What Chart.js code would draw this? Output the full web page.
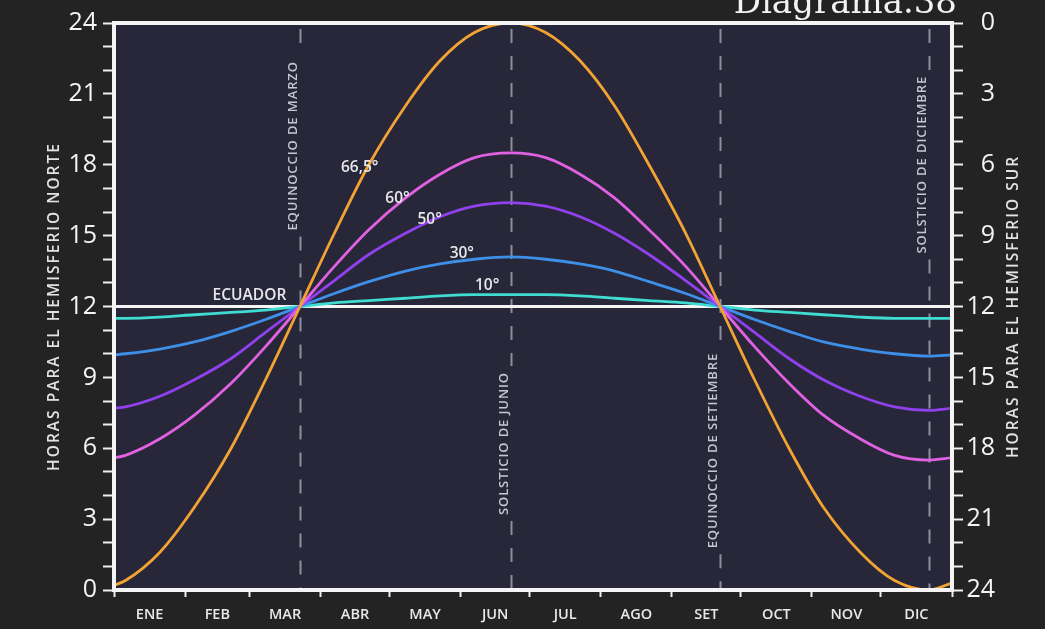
<!DOCTYPE html>
<html>
<head>
<meta charset="utf-8">
<script src="https://cdn.jsdelivr.net/npm/chart.js@4.4.1/dist/chart.umd.min.js"></script>
<style>
  html, body { margin: 0; padding: 0; background: #232323; }
  #caja { width: 1045px; height: 629px; position: relative; }
</style>
</head>
<body>
<div id="caja"><canvas id="grafico" width="1045" height="629"></canvas></div>
<script>
// =========================
// DATOS (leidos del diagrama)
// =========================
const dias = [0, 5, 20, 35, 51, 66, 81, 96, 111, 127, 142, 157, 173,
  188, 203, 218, 233, 249, 264, 279, 294, 309, 325, 340, 355, 365];

const lat665 = [0.2, 0.4, 1.6, 3.5, 6.0, 8.9, 12, 15.1, 18.0, 20.5, 22.4, 23.6, 24,
  23.6, 22.4, 20.5, 18.0, 15.1, 12, 8.9, 6.0, 3.5, 1.6, 0.4, 0, 0.3];
const lat60 = [5.6, 5.7, 6.4, 7.4, 8.75, 10.3, 12, 13.7, 15.25, 16.6, 17.6, 18.3, 18.5,
  18.3, 17.6, 16.6, 15.25, 13.7, 12, 10.3, 8.75, 7.4, 6.4, 5.7, 5.5, 5.6];
const lat50 = [7.7, 7.75, 8.2, 8.9, 9.8, 10.9, 12, 13.1, 14.2, 15.1, 15.8, 16.25, 16.4,
  16.25, 15.8, 15.1, 14.2, 13.1, 12, 10.9, 9.8, 8.9, 8.2, 7.75, 7.6, 7.7];
const lat30 = [9.95, 10.0, 10.2, 10.5, 10.95, 11.45, 12, 12.55, 13.05, 13.5, 13.8, 14.0, 14.1,
  14.0, 13.8, 13.5, 13.05, 12.55, 12, 11.45, 10.95, 10.5, 10.2, 10.0, 9.9, 9.95];
const lat10 = [11.5, 11.5, 11.55, 11.65, 11.75, 11.85, 12, 12.15, 12.25, 12.35, 12.45, 12.5, 12.5,
  12.5, 12.45, 12.35, 12.25, 12.15, 12, 11.85, 11.75, 11.65, 11.55, 11.5, 11.5, 11.5];
const ecuador = [12, 12];
const ecuadorDias = [0, 365];

const meses = ["ENE", "FEB", "MAR", "ABR", "MAY", "JUN", "JUL", "AGO", "SET", "OCT", "NOV", "DIC"];
const inicioMes = [0, 31, 59, 90, 120, 151, 181, 212, 243, 273, 304, 334, 365];
const horasEtiquetas = [0, 3, 6, 9, 12, 15, 18, 21, 24];

// fechas clave (dia del año) y sus rotulos
const eventoDias = [81, 173, 264, 355];
const eventoTextos = ["EQUINOCCIO DE MARZO", "SOLSTICIO DE JUNIO", "EQUINOCCIO DE SETIEMBRE", "SOLSTICIO DE DICIEMBRE"];
const eventoHoras = [18.8, 6.2, 5.9, 18.0];

// rotulos de cada curva
const curvaTextos = ["66,5°", "60°", "50°", "30°", "10°", "ECUADOR"];
const curvaDias = [107, 123.5, 137.5, 151.5, 162.5, 59];
const curvaHoras = [17.9, 16.55, 15.7, 14.25, 12.9, 12.45];

// =========================
// UTILIDADES
// =========================
const mitadMes = meses.map((m, i) => (inicioMes[i] + inicioMes[i + 1]) / 2);
const nombreEn = new Map(mitadMes.map((v, i) => [v, meses[i]]));
const puntos = (xs, ys) => xs.map((x, i) => ({ x: x, y: ys[i] }));
const FUENTE = "'Open Sans', 'DejaVu Sans', sans-serif";

function serie(datos, color, ancho) {
  return {
    data: datos,
    borderColor: color,
    borderWidth: ancho || 2.8,
    pointRadius: 0,
    fill: false,
    cubicInterpolationMode: "monotone"
  };
}

// =========================
// DECORACION (fondo, marco, rotulos)
// =========================
const decoracion = {
  id: "decoracion",
  beforeDraw(chart) {
    const { ctx, chartArea: a } = chart;
    ctx.save();
    ctx.fillStyle = "#272739";
    ctx.fillRect(a.left, a.top, a.right - a.left, a.bottom - a.top);
    ctx.restore();
  },
  beforeDatasetsDraw(chart) {
    const { ctx, chartArea: a, scales } = chart;
    ctx.save();
    ctx.font = "600 13px " + FUENTE;
    ctx.letterSpacing = "0.9px";
    eventoDias.forEach((d, i) => {
      const x = Math.round(scales.x.getPixelForValue(d)) + 0.5;
      const yc = scales.y.getPixelForValue(eventoHoras[i]);
      const w = ctx.measureText(eventoTextos[i]).width;
      ctx.strokeStyle = "#8d8e9e";
      ctx.lineWidth = 2;
      ctx.setLineDash([14, 13]);
      ctx.beginPath();
      ctx.moveTo(x, a.top + 6);
      ctx.lineTo(x, yc - w / 2 - 6);
      ctx.moveTo(x, yc + w / 2 + 6);
      ctx.lineTo(x, a.bottom);
      ctx.stroke();

      ctx.save();
      ctx.translate(x - 7, yc);
      ctx.rotate(-Math.PI / 2);
      ctx.fillStyle = "#c6c6d0";
      ctx.textAlign = "center";
      ctx.textBaseline = "middle";
      ctx.fillText(eventoTextos[i], 0, 0);
      ctx.restore();
    });
    ctx.restore();
  },
  afterDatasetsDraw(chart) {
    const { ctx, chartArea: a, scales } = chart;
    ctx.save();
    // marco blanco
    ctx.strokeStyle = "#f4f4f4";
    ctx.lineWidth = 4;
    ctx.strokeRect(a.left, a.top, a.right - a.left, a.bottom - a.top);

    // rotulos de latitud
    ctx.fillStyle = "#e8e8ec";
    ctx.textAlign = "center";
    ctx.textBaseline = "middle";
    ctx.font = "600 15.5px " + FUENTE;
    ctx.letterSpacing = "0px";
    curvaTextos.forEach((t, i) => {
      ctx.fillText(t, scales.x.getPixelForValue(curvaDias[i]), scales.y.getPixelForValue(curvaHoras[i]));
    });

    // titulos de ejes
    ctx.font = "600 15.5px " + FUENTE;
    ctx.letterSpacing = "2px";
    ctx.fillStyle = "#e2e2e2";
    [["HORAS PARA EL HEMISFERIO NORTE", 55], ["HORAS PARA EL HEMISFERIO SUR", 1014]].forEach(([t, x]) => {
      ctx.save();
      ctx.translate(x, (a.top + a.bottom) / 2);
      ctx.rotate(-Math.PI / 2);
      ctx.fillText(t, 0, 0);
      ctx.restore();
    });

    // titulo cortado arriba
    ctx.letterSpacing = "0px";
    ctx.font = "34px 'DejaVu Serif', 'Liberation Serif', serif";
    ctx.textAlign = "right";
    ctx.textBaseline = "alphabetic";
    ctx.fillStyle = "#f2f2f2";
    ctx.fillText("Diagrama.38", 957, 13);
    ctx.restore();
  }
};

// =========================
// GRAFICO
// =========================
const ejeY = (pos, invertido) => ({
  type: "linear",
  position: pos,
  min: 0,
  max: 24,
  reverse: invertido,
  afterBuildTicks: s => { s.ticks = Array.from({ length: 25 }, (_, h) => ({ value: h })); },
  afterFit: s => { s.width = pos === "left" ? 114 : 43; },
  border: { display: false },
  grid: { drawOnChartArea: false, tickLength: 11, tickWidth: 2, tickColor: "#f0f0f0" },
  ticks: {
    autoSkip: false,
    padding: 6,
    crossAlign: pos === "left" ? "near" : "far",
    color: "#f4f4f4",
    font: { family: FUENTE, size: 25 },
    callback: v => horasEtiquetas.includes(v) ? String(v) : ""
  }
});

new Chart(document.getElementById("grafico"), {
  type: "line",
  data: {
    datasets: [
      serie(puntos(dias, lat665), "#f2a334"),
      serie(puntos(dias, lat60), "#e062e2"),
      serie(puntos(dias, lat50), "#9140ee"),
      serie(puntos(dias, lat30), "#3d8fe8"),
      serie(puntos(dias, lat10), "#3fdcd2"),
      serie(puntos(ecuadorDias, ecuador), "#f4f4f4", 3)
    ]
  },
  options: {
    responsive: false,
    animation: false,
    layout: { padding: { top: 23, left: 0, right: 50, bottom: 0 } },
    plugins: { legend: { display: false }, tooltip: { enabled: false } },
    scales: {
      x: {
        type: "linear",
        min: 0,
        max: 365,
        afterBuildTicks: s => {
          s.ticks = inicioMes.concat(mitadMes).sort((p, q) => p - q).map(v => ({ value: v }));
        },
        afterFit: s => { s.height = 39; },
        border: { display: false },
        grid: {
          drawOnChartArea: false,
          tickLength: 7,
          tickWidth: 2,
          tickColor: c => (c.tick && nombreEn.has(c.tick.value)) ? "rgba(0,0,0,0)" : "#f0f0f0"
        },
        ticks: {
          autoSkip: false,
          maxRotation: 0,
          padding: 9,
          color: "#e8e8e8",
          font: { family: FUENTE, size: 14.5, weight: "600" },
          callback: v => nombreEn.get(v) || ""
        }
      },
      y: ejeY("left", false),
      y2: ejeY("right", true)
    }
  },
  plugins: [decoracion]
});
</script>
</body>
</html>
